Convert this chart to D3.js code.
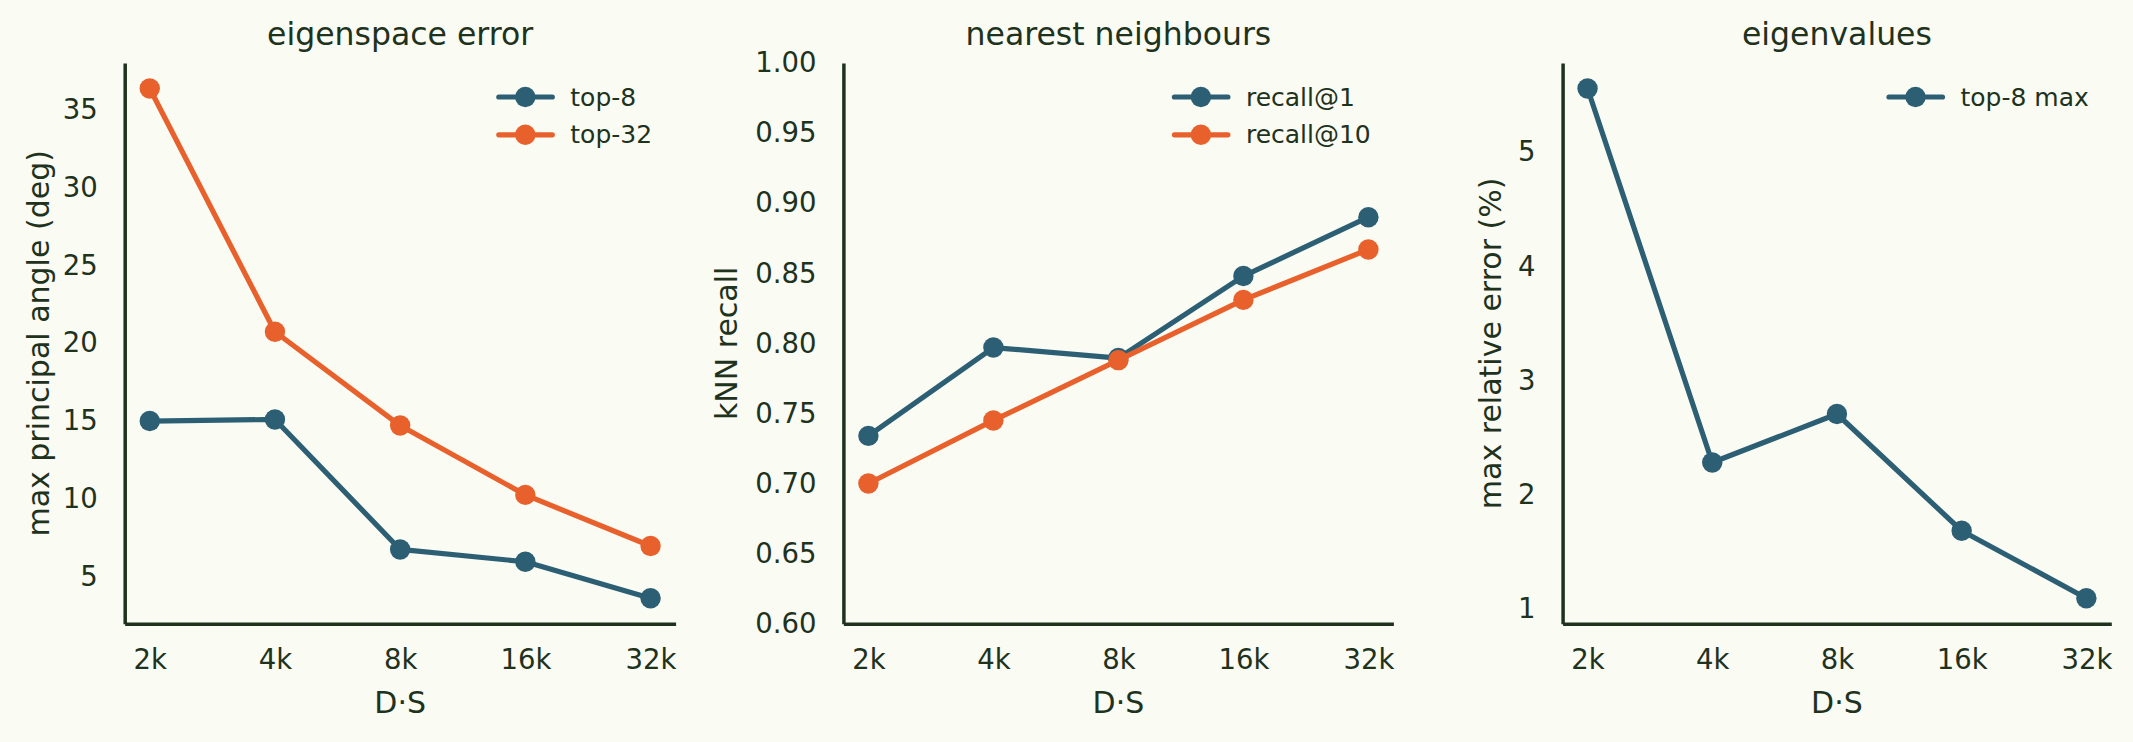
<!DOCTYPE html>
<html lang="en">
<head>
    <meta charset="UTF-8">
    <title>Eigenspace / kNN / eigenvalue error vs D·S</title>
    <script src="https://d3js.org/d3.v7.min.js"></script>
    <style>
        body { margin: 0; background: #fafbf2; }
        svg text { font-family: "DejaVu Sans", sans-serif; fill: #1e321d; }
    </style>
</head>
<body>
<div id="chart"></div>
<script>
    // data
    const sizes = ["2k", "4k", "8k", "16k", "32k"];

    const angleTop8  = [15.0, 15.1, 6.76, 5.97, 3.63];
    const angleTop32 = [36.34, 20.73, 14.71, 10.26, 6.98];

    const recallAt1  = [0.734, 0.797, 0.7895, 0.848, 0.890];
    const recallAt10 = [0.700, 0.745, 0.788, 0.831, 0.867];

    const eigRelErr  = [5.557, 2.280, 2.705, 1.682, 1.091];

    const angleTicks  = [5, 10, 15, 20, 25, 30, 35];
    const recallTicks = [0.60, 0.65, 0.70, 0.75, 0.80, 0.85, 0.90, 0.95, 1.00];
    const eigTicks    = [1, 2, 3, 4, 5];

    const blue = "#2d5f74", orange = "#e8612d", ink = "#1e321d";

    const W = 2133, H = 742;
    const plotTop = 63, plotBottom = 623.7;

    const svg = d3.select("#chart").append("svg")
        .attr("width", W).attr("height", H);
    svg.append("rect").attr("width", W).attr("height", H).attr("fill", "#fafbf2");

    // pad a domain by 5% like matplotlib autoscale
    function padded(arrays) {
        const all = arrays.flat();
        const lo = d3.min(all), hi = d3.max(all), m = (hi - lo) * 0.05;
        return [lo - m, hi + m];
    }

    const panels = [
        {
            left: 124.7, right: 675.6, title: "eigenspace error",
            ylabel: "max principal angle (deg)", ylabelX: 38.5,
            domain: padded([angleTop8, angleTop32]), ticks: angleTicks, fmt: d3.format("d"),
            series: [{name: "top-8", values: angleTop8, color: blue},
                     {name: "top-32", values: angleTop32, color: orange}],
            legendX: 498.8
        },
        {
            left: 843.4, right: 1393.4, title: "nearest neighbours",
            ylabel: "kNN recall", ylabelX: 726.9,
            domain: [0.6, 1.0], ticks: recallTicks, fmt: d3.format(".2f"),
            series: [{name: "recall@1", values: recallAt1, color: blue},
                     {name: "recall@10", values: recallAt10, color: orange}],
            legendX: 1174.4
        },
        {
            left: 1562.6, right: 2111.3, title: "eigenvalues",
            ylabel: "max relative error (%)", ylabelX: 1490,
            domain: padded([eigRelErr]), ticks: eigTicks, fmt: d3.format("d"),
            series: [{name: "top-8 max", values: eigRelErr, color: blue}],
            legendX: 1889
        }
    ];

    panels.forEach(p => {
        const x = d3.scalePoint().domain(sizes).range([p.left, p.right]).padding(0.2);
        const y = d3.scaleLinear().domain(p.domain).range([plotBottom, plotTop]);

        // axes
        const gx = svg.append("g").attr("transform", `translate(0,${plotBottom})`)
            .call(d3.axisBottom(x).tickSize(0).tickPadding(26));
        const gy = svg.append("g").attr("transform", `translate(${p.left},0)`)
            .call(d3.axisLeft(y).tickValues(p.ticks).tickFormat(p.fmt).tickSize(0).tickPadding(27));
        [gx, gy].forEach(g => {
            g.select(".domain").attr("stroke", ink).attr("stroke-width", 3.5);
            g.selectAll("text").attr("font-size", 27.5).attr("fill", ink)
                .attr("font-family", "DejaVu Sans, sans-serif");
        });

        // title and labels
        const cx = (p.left + p.right) / 2;
        svg.append("text").attr("x", cx).attr("y", 45)
            .attr("text-anchor", "middle").attr("font-size", 31.5).text(p.title);
        svg.append("text").attr("x", cx).attr("y", 713)
            .attr("text-anchor", "middle").attr("font-size", 30).text("D·S");
        svg.append("text")
            .attr("transform", `translate(${p.ylabelX},${(plotTop + plotBottom) / 2}) rotate(-90)`)
            .attr("text-anchor", "middle").attr("dominant-baseline", "central")
            .attr("font-size", 30).text(p.ylabel);

        // lines + markers
        const line = d3.line().x((d, i) => x(sizes[i])).y(d => y(d));
        p.series.forEach(s => {
            svg.append("path").datum(s.values)
                .attr("d", line).attr("fill", "none")
                .attr("stroke", s.color).attr("stroke-width", 5.2)
                .attr("stroke-linejoin", "round");
            svg.selectAll(null).data(s.values).enter().append("circle")
                .attr("cx", (d, i) => x(sizes[i])).attr("cy", d => y(d))
                .attr("r", 10.2).attr("fill", s.color);
        });

        // legend
        p.series.forEach((s, i) => {
            const ly = 97 + i * 37.8;
            const g = svg.append("g").attr("transform", `translate(${p.legendX},${ly})`);
            g.append("line").attr("x1", 0).attr("x2", 53.5)
                .attr("stroke", s.color).attr("stroke-width", 5.2).attr("stroke-linecap", "round");
            g.append("circle").attr("cx", 26.5).attr("r", 10.2).attr("fill", s.color);
            g.append("text").attr("x", 71.5).attr("dominant-baseline", "central")
                .attr("font-size", 25).text(s.name);
        });
    });
</script>
</body>
</html>
